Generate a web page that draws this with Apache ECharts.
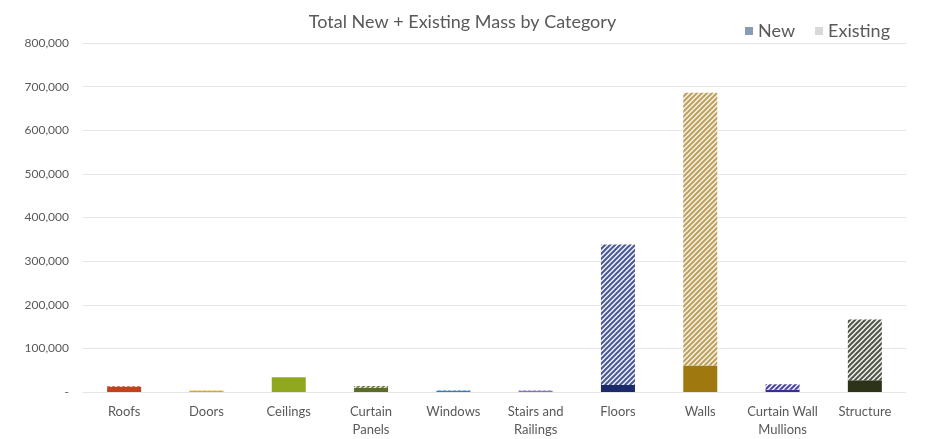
<!DOCTYPE html>
<html><head><meta charset="utf-8">
<script src="https://cdn.jsdelivr.net/npm/echarts@6/dist/echarts.min.js"></script>
<style>html,body{margin:0;padding:0;background:#fff}#c{width:925px;height:439px}</style>
</head><body><div id="c"></div>
<script>
const categories = ['Roofs','Doors','Ceilings','Curtain\nPanels','Windows','Stairs and\nRailings','Floors','Walls','Curtain Wall\nMullions','Structure'];
const newMass = [12000, 3000, 34000, 10000, 3000, 3000, 16000, 61000, 5000, 27000];
const existingMass = [2000, 1000, 0, 4000, 1000, 1000, 322000, 625000, 13000, 139000];
const yTicks = [0, 100000, 200000, 300000, 400000, 500000, 600000, 700000, 800000];

const newColors = ['#C0431E','#E8A317','#8FA81E','#5A6B2A','#2E7CC2','#8874B8','#1B2A6B','#A07810','#3A2C95','#2C3318'];
const hatchColors = ['#C85A38','#F0C040','#A8C040','#6E7E3A','#5090D0','#9A88C8','#48589A','#BFA058','#4A40A8','#50554A'];

function hatch(color){
  const s = 5;
  const c = document.createElement('canvas');
  c.width = s; c.height = s;
  const g = c.getContext('2d');
  g.fillStyle = '#f2f2ee'; g.fillRect(0,0,s,s);
  g.strokeStyle = color; g.lineWidth = 2;
  g.beginPath();
  g.moveTo(-1,s+1); g.lineTo(s+1,-1);
  g.moveTo(-s-1,s+1); g.lineTo(1,-1);
  g.moveTo(-1,2*s+1); g.lineTo(2*s+1,-1);
  g.stroke();
  return {image: c, repeat: 'repeat'};
}

const chart = echarts.init(document.getElementById('c'), null, {renderer:'canvas'});
const font = 'Lato, "Open Sans", sans-serif';
chart.setOption({
  animation: false,
  title: {text: 'Total New + Existing Mass by Category', left: 'center', top: 8,
    textStyle: {fontFamily: font, fontSize: 18, fontWeight: 'normal', color: '#595959'}},
  legend: {right: 30, top: 17, itemWidth: 8, itemHeight: 8, icon: 'rect', itemGap: 20,
    textStyle: {fontFamily: font, fontSize: 18, color: '#595959'},
    data: [{name:'New', itemStyle:{color:'#8A9BB5'}}, {name:'Existing', itemStyle:{color:'#D9D9D9'}}]},
  grid: {left: 83, right: 19, top: 43, bottom: 44, containLabel: false},
  xAxis: {type: 'category', data: categories,
    axisLine: {show: false}, axisTick: {show: false},
    axisLabel: {fontFamily: font, fontSize: 13, color: '#595959', margin: 11, lineHeight: 18, interval: 0}},
  yAxis: {type: 'value', min: 0, max: 800000, interval: 100000,
    axisLine: {show: false}, axisTick: {show: false},
    splitLine: {lineStyle: {color: '#E6E6E6'}},
    axisLabel: {fontFamily: font, fontSize: 12, color: '#595959', margin: 14,
      formatter: v => v === yTicks[0] ? '-' : v.toLocaleString('en-US')}},
  series: [
    {name: 'New', type: 'bar', stack: 'm', barWidth: 34, itemStyle: {color: '#8A9BB5'},
      data: newMass.map((v,i) => ({value: v, itemStyle: {color: newColors[i]}}))},
    {name: 'Existing', type: 'bar', stack: 'm', barWidth: 34, itemStyle: {color: '#D9D9D9'},
      data: existingMass.map((v,i) => ({value: v, itemStyle: {color: hatch(hatchColors[i])}}))}
  ]
});
</script></body></html>
